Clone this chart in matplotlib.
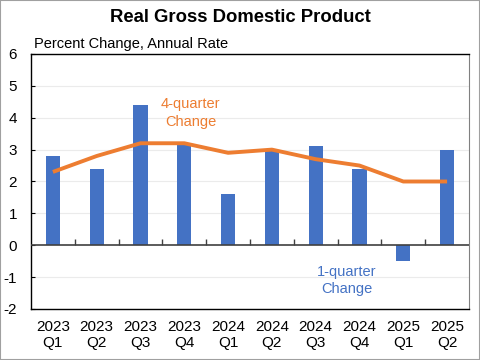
import matplotlib
matplotlib.use("Agg")
import matplotlib.pyplot as plt
from matplotlib.patches import Rectangle

categories = ["2023\nQ1", "2023\nQ2", "2023\nQ3", "2023\nQ4", "2024\nQ1",
              "2024\nQ2", "2024\nQ3", "2024\nQ4", "2025\nQ1", "2025\nQ2"]
one_quarter = [2.8, 2.4, 4.4, 3.2, 1.6, 3.0, 3.1, 2.4, -0.5, 3.0]
four_quarter = [2.3, 2.8, 3.2, 3.2, 2.9, 3.0, 2.7, 2.5, 2.0, 2.0]
yticks = [-2, -1, 0, 1, 2, 3, 4, 5, 6]

plt.rcParams['font.family'] = ['Liberation Sans', 'DejaVu Sans']

fig = plt.figure(figsize=(4.8, 3.6), dpi=100)
ax = fig.add_axes([31/480, 1-309/360, (469-31)/480, (309-54)/360])

x = list(range(len(categories)))
ax.bar(x, one_quarter, width=0.32, color="#4472C4", zorder=2)
ax.plot(x, four_quarter, color="#ED7D31", lw=2.8, zorder=3, solid_capstyle='butt')

ax.set_xlim(-0.5, len(categories) - 0.5)
ax.set_ylim(-2, 6)
ax.set_yticks(yticks)
ax.set_yticklabels([str(v) for v in yticks], fontsize=11)
ax.set_xticks(x)
ax.set_xticklabels(categories, fontsize=11, linespacing=1.15)
ax.tick_params(axis='x', length=0, pad=8)
ax.tick_params(axis='y', length=3, width=0.8, pad=10, direction='in')

for v in yticks:
    if v != 0:
        ax.axhline(v, color="#EBEBEB", lw=0.8, zorder=1)
ax.axhline(0, color="#404040", lw=1.2, zorder=4)

sec = ax.secondary_xaxis(0.25)
sec.set_xticks([i + 0.5 for i in range(len(categories) - 1)])
sec.set_xticklabels([])
sec.tick_params(direction='in', length=4, width=1, color="#404040")
sec.spines['bottom'].set_visible(False)

for s in ['left', 'bottom', 'top']:
    ax.spines[s].set_color('black')
    ax.spines[s].set_linewidth(1.0)
ax.spines['right'].set_color('#808080')

ax.text(3.15, 4.15, "4-quarter\nChange", color="#ED7D31", fontsize=10.5,
        ha='center', va='center', linespacing=1.3)
ax.text(6.71, -1.1, "1-quarter\nChange", color="#4472C4", fontsize=10.5,
        ha='center', va='center', linespacing=1.3)

fig.text(0.5, 1-17/360, "Real Gross Domestic Product", fontsize=13.3,
         fontweight='bold', ha='center', va='center')
fig.text(34/480, 1-44/360, "Percent Change, Annual Rate", fontsize=10.5,
         ha='left', va='center')

fig.patches.append(Rectangle((0, 0), 1, 1, transform=fig.transFigure,
                             fill=False, edgecolor='#A0A0A0', lw=1.5))

fig.savefig("out.png", dpi=100)
